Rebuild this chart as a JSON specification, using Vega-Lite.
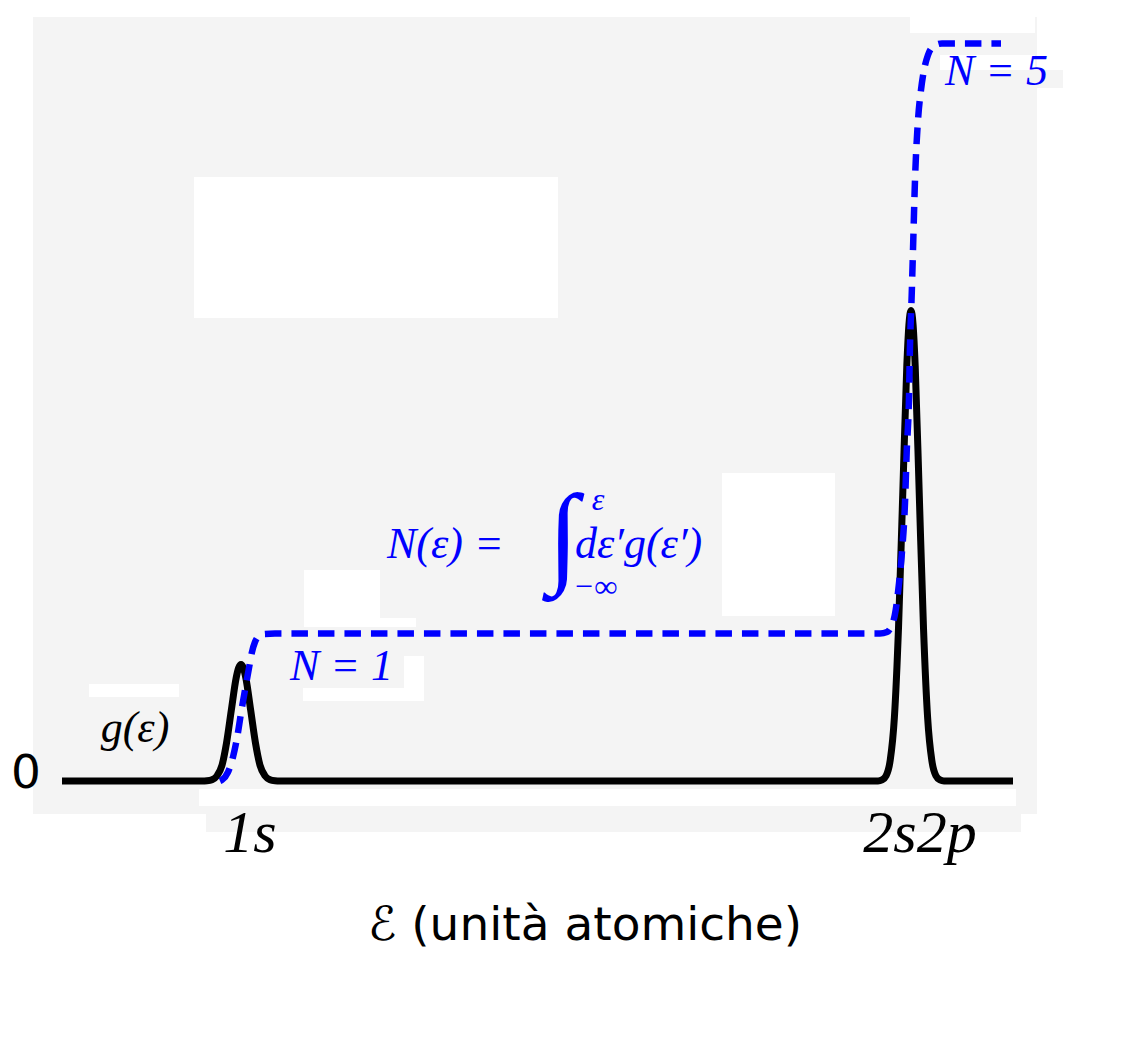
{
  "$schema": "https://vega.github.io/schema/vega-lite/v6.json",
  "width": 1140,
  "height": 1041,
  "autosize": {"type": "fit", "contains": "padding"},
  "padding": 0,
  "background": "white",
  "config": {"view": {"stroke": null}},
  "datasets": {
    "panels": [
      {"e1": -0.29, "e2": 9.75, "v1": 5.18, "v2": -0.224},
      {"e1": 1.44, "e2": 9.59, "v1": -0.169, "v2": -0.346},
      {"e1": 9.73, "e2": 10.01, "v1": 4.82, "v2": 4.698}
    ],
    "gaps": [
      {"e1": 8.48, "e2": 9.73, "v1": 5.19, "v2": 5.071},
      {"e1": 1.32, "e2": 4.96, "v1": 4.095, "v2": 3.139},
      {"e1": 6.6, "e2": 7.73, "v1": 2.088, "v2": 1.119},
      {"e1": 2.42, "e2": 3.18, "v1": 1.431, "v2": 1.044},
      {"e1": 3.18, "e2": 3.54, "v1": 1.105, "v2": 1.044},
      {"e1": 3.42, "e2": 3.62, "v1": 0.847, "v2": 0.542},
      {"e1": 2.41, "e2": 3.62, "v1": 0.631, "v2": 0.542},
      {"e1": 0.27, "e2": 1.17, "v1": 0.658, "v2": 0.569},
      {"e1": 1.37, "e2": 9.54, "v1": -0.054, "v2": -0.169},
      {"e1": 8.78, "e2": 9.73, "v1": 4.922, "v2": 4.82}
    ],
    "g": [
      {"energy": 0, "g": 0},
      {"energy": 1.40, "g": 0},
      {"energy": 1.45, "g": 0.0017},
      {"energy": 1.50, "g": 0.0088},
      {"energy": 1.55, "g": 0.0347},
      {"energy": 1.60, "g": 0.1069},
      {"energy": 1.645, "g": 0.2565},
      {"energy": 1.693, "g": 0.479},
      {"energy": 1.741, "g": 0.697},
      {"energy": 1.766, "g": 0.766},
      {"energy": 1.79, "g": 0.79},
      {"energy": 1.814, "g": 0.766},
      {"energy": 1.839, "g": 0.697},
      {"energy": 1.887, "g": 0.479},
      {"energy": 1.935, "g": 0.2565},
      {"energy": 1.98, "g": 0.1069},
      {"energy": 2.03, "g": 0.0347},
      {"energy": 2.08, "g": 0.0088},
      {"energy": 2.13, "g": 0.0017},
      {"energy": 2.18, "g": 0},
      {"energy": 8.16, "g": 0},
      {"energy": 8.2, "g": 0.007},
      {"energy": 8.241, "g": 0.0354},
      {"energy": 8.282, "g": 0.14},
      {"energy": 8.324, "g": 0.4316},
      {"energy": 8.365, "g": 1.036},
      {"energy": 8.407, "g": 1.935},
      {"energy": 8.448, "g": 2.815},
      {"energy": 8.469, "g": 3.092},
      {"energy": 8.49, "g": 3.19},
      {"energy": 8.511, "g": 3.092},
      {"energy": 8.532, "g": 2.815},
      {"energy": 8.573, "g": 1.935},
      {"energy": 8.615, "g": 1.036},
      {"energy": 8.656, "g": 0.4316},
      {"energy": 8.698, "g": 0.14},
      {"energy": 8.739, "g": 0.0354},
      {"energy": 8.78, "g": 0.007},
      {"energy": 8.82, "g": 0},
      {"energy": 9.51, "g": 0}
    ],
    "N": [
      {"energy": 1.58, "N": 0},
      {"energy": 1.6, "N": 0.007},
      {"energy": 1.66, "N": 0.06},
      {"energy": 1.71, "N": 0.163},
      {"energy": 1.75, "N": 0.29},
      {"energy": 1.79, "N": 0.46},
      {"energy": 1.83, "N": 0.617},
      {"energy": 1.87, "N": 0.766},
      {"energy": 1.9, "N": 0.875},
      {"energy": 1.93, "N": 0.942},
      {"energy": 1.97, "N": 0.983},
      {"energy": 2.03, "N": 0.997},
      {"energy": 2.13, "N": 1.0},
      {"energy": 8.18, "N": 1.0},
      {"energy": 8.25, "N": 1.01},
      {"energy": 8.28, "N": 1.03},
      {"energy": 8.337, "N": 1.16},
      {"energy": 8.37, "N": 1.34},
      {"energy": 8.397, "N": 1.53},
      {"energy": 8.43, "N": 1.885},
      {"energy": 8.447, "N": 2.23},
      {"energy": 8.47, "N": 2.6},
      {"energy": 8.48, "N": 2.95},
      {"energy": 8.497, "N": 3.295},
      {"energy": 8.51, "N": 3.6},
      {"energy": 8.53, "N": 4.075},
      {"energy": 8.56, "N": 4.48},
      {"energy": 8.59, "N": 4.685},
      {"energy": 8.62, "N": 4.82},
      {"energy": 8.66, "N": 4.922},
      {"energy": 8.72, "N": 4.983},
      {"energy": 8.8, "N": 5.0},
      {"energy": 9.39, "N": 5.0}
    ],
    "sansLabels": [
      {"energy": -0.36, "level": -0.0475, "label": "0"},
      {"energy": 5.23, "level": -1.078, "label": "ℰ (unità atomiche)"}
    ],
    "orbitalLabels": [
      {"energy": 1.88, "level": -0.481, "label": "1s"},
      {"energy": 8.58, "level": -0.481, "label": "2s2p"}
    ],
    "curveLabels": [
      {"energy": 0.73, "level": 0.264, "label": "g(ε)"}
    ],
    "countLabels": [
      {"energy": 2.28, "level": 0.685, "label": "N = 1"},
      {"energy": 8.83, "level": 4.719, "label": "N = 5"},
      {"energy": 3.25, "level": 1.512, "label": "N(ε)   ="},
      {"energy": 5.13, "level": 1.512, "label": "dε′g(ε′)"}
    ],
    "limitLabels": [
      {"energy": 5.36, "level": 1.837, "label": "ε"},
      {"energy": 5.33, "level": 1.247, "label": "−∞"}
    ],
    "integralSign": [
      {"energy": 5.01, "level": 1.415, "label": "∫"}
    ]
  },
  "layer": [
    {
      "data": {"name": "panels"},
      "mark": {"type": "rect", "fill": "#f4f4f4"},
      "encoding": {
        "x": {"field": "e1", "type": "quantitative", "scale": {"domain": [-0.62, 10.78], "nice": false, "zero": false}, "axis": null},
        "x2": {"field": "e2"},
        "y": {"field": "v1", "type": "quantitative", "scale": {"domain": [-1.7627, 5.2949], "nice": false, "zero": false}, "axis": null},
        "y2": {"field": "v2"}
      }
    },
    {
      "data": {"name": "gaps"},
      "mark": {"type": "rect", "fill": "#ffffff"},
      "encoding": {
        "x": {"field": "e1", "type": "quantitative", "axis": null},
        "x2": {"field": "e2"},
        "y": {"field": "v1", "type": "quantitative", "axis": null},
        "y2": {"field": "v2"}
      }
    },
    {
      "data": {"name": "g"},
      "mark": {"type": "line", "color": "#000000", "strokeWidth": 7, "strokeJoin": "round", "interpolate": "monotone"},
      "encoding": {
        "x": {"field": "energy", "type": "quantitative", "axis": null},
        "y": {"field": "g", "type": "quantitative", "axis": null}
      }
    },
    {
      "data": {"name": "N"},
      "mark": {"type": "line", "color": "#0000ff", "strokeWidth": 6.5, "strokeDash": [16.5, 10], "interpolate": "monotone"},
      "encoding": {
        "x": {"field": "energy", "type": "quantitative", "axis": null},
        "y": {"field": "N", "type": "quantitative", "axis": null}
      }
    },
    {
      "data": {"name": "sansLabels"},
      "mark": {"type": "text", "font": "DejaVu Sans", "fontSize": 47, "align": "center", "baseline": "alphabetic", "color": "#000000"},
      "encoding": {
        "x": {"field": "energy", "type": "quantitative", "axis": null},
        "y": {"field": "level", "type": "quantitative", "axis": null},
        "text": {"field": "label"}
      }
    },
    {
      "data": {"name": "orbitalLabels"},
      "mark": {"type": "text", "font": "Liberation Serif", "fontStyle": "italic", "fontSize": 60, "align": "center", "baseline": "alphabetic", "color": "#000000"},
      "encoding": {
        "x": {"field": "energy", "type": "quantitative", "axis": null},
        "y": {"field": "level", "type": "quantitative", "axis": null},
        "text": {"field": "label"}
      }
    },
    {
      "data": {"name": "curveLabels"},
      "mark": {"type": "text", "font": "Liberation Serif", "fontStyle": "italic", "fontSize": 44, "align": "center", "baseline": "alphabetic", "color": "#000000"},
      "encoding": {
        "x": {"field": "energy", "type": "quantitative", "axis": null},
        "y": {"field": "level", "type": "quantitative", "axis": null},
        "text": {"field": "label"}
      }
    },
    {
      "data": {"name": "countLabels"},
      "mark": {"type": "text", "font": "Liberation Serif", "fontStyle": "italic", "fontSize": 44, "align": "left", "baseline": "alphabetic", "color": "#0000ff"},
      "encoding": {
        "x": {"field": "energy", "type": "quantitative", "axis": null},
        "y": {"field": "level", "type": "quantitative", "axis": null},
        "text": {"field": "label"}
      }
    },
    {
      "data": {"name": "limitLabels"},
      "mark": {"type": "text", "font": "Liberation Serif", "fontStyle": "italic", "fontSize": 32, "align": "center", "baseline": "alphabetic", "color": "#0000ff"},
      "encoding": {
        "x": {"field": "energy", "type": "quantitative", "axis": null},
        "y": {"field": "level", "type": "quantitative", "axis": null},
        "text": {"field": "label"}
      }
    },
    {
      "data": {"name": "integralSign"},
      "mark": {"type": "text", "font": "Liberation Serif", "fontSize": 112, "align": "center", "baseline": "alphabetic", "color": "#0000ff"},
      "encoding": {
        "x": {"field": "energy", "type": "quantitative", "axis": null},
        "y": {"field": "level", "type": "quantitative", "axis": null},
        "text": {"field": "label"}
      }
    }
  ]
}
